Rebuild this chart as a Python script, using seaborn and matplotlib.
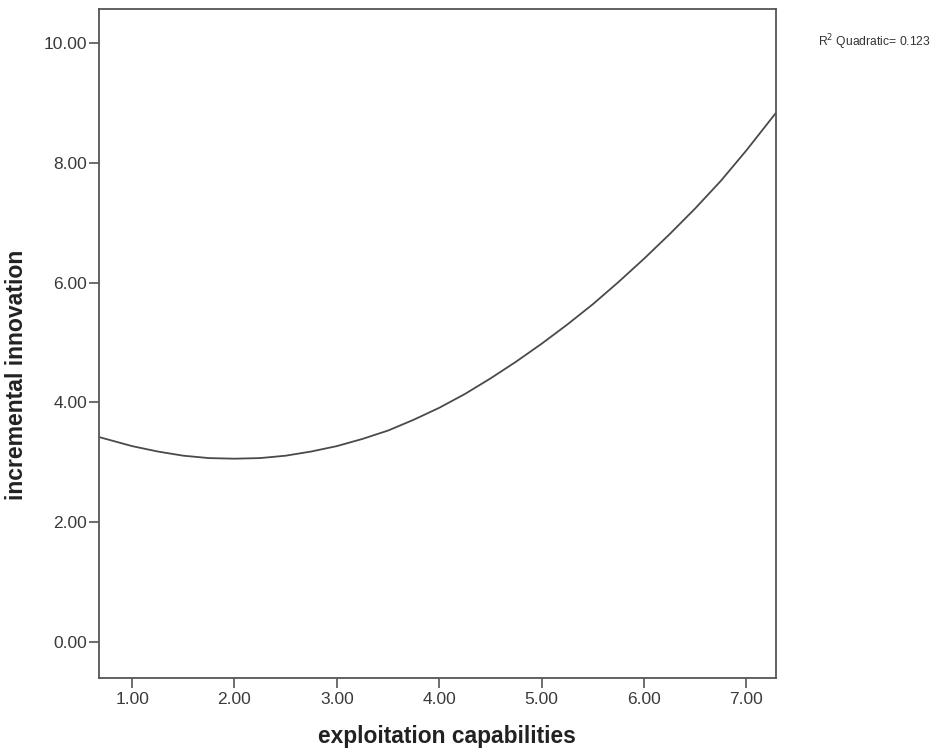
import matplotlib
matplotlib.use("Agg")
import matplotlib.pyplot as plt
import pandas as pd
import seaborn as sns

# Fitted quadratic curve.
exploitation = [0.68, 1.00, 1.25, 1.50, 1.75, 2.00, 2.25, 2.50, 2.75, 3.00,
                3.25, 3.50, 3.75, 4.00, 4.25, 4.50, 4.75, 5.00, 5.25, 5.50,
                5.75, 6.00, 6.25, 6.50, 6.75, 7.00, 7.29]
incremental = [3.42, 3.27, 3.18, 3.11, 3.07, 3.06, 3.07, 3.11, 3.18, 3.27,
               3.39, 3.53, 3.71, 3.91, 4.14, 4.40, 4.68, 4.98, 5.30, 5.64,
               6.01, 6.40, 6.81, 7.24, 7.70, 8.21, 8.84]
x_ticks = [1, 2, 3, 4, 5, 6, 7]
y_ticks = [0, 2, 4, 6, 8, 10]
r2_label = "R$^2$ Quadratic= 0.123"

sns.set_style("ticks")
plt.rcParams["font.family"] = ["Liberation Sans", "DejaVu Sans"]

data = pd.DataFrame({"x": exploitation, "y": incremental})

fig = plt.figure(figsize=(9.34, 7.49), dpi=100)
ax = fig.add_axes([0.106, 0.095, 0.725, 0.893])

sns.lineplot(data=data, x="x", y="y", color="#4a4a4a", linewidth=1.3, ax=ax)

ax.set_xlim(0.677, 7.29)
ax.set_ylim(-0.6, 10.57)
ax.set_xticks(x_ticks)
ax.set_yticks(y_ticks)
ax.set_xticklabels(["{:.2f}".format(t) for t in x_ticks])
ax.set_yticklabels(["{:.2f}".format(t) for t in y_ticks])
ax.tick_params(length=7.5, width=1.2, color="#555555", labelsize=12.5,
               labelcolor="#3a3a3a")
ax.tick_params(axis="y", pad=1)
ax.tick_params(axis="x", pad=3)
for spine in ax.spines.values():
    spine.set_visible(True)
    spine.set_color("#555555")
    spine.set_linewidth(1.3)

ax.set_xlabel("exploitation capabilities", fontsize=16.4, fontweight="bold",
              color="#222222", va="top")
ax.set_ylabel("incremental innovation", fontsize=16.6, fontweight="bold",
              color="#222222")
ax.xaxis.set_label_coords(0.513, -0.07)
ax.yaxis.set_label_coords(-0.105, 0.453)

fig.text(0.876, 0.943, r2_label, fontsize=8.7, color="#333333", va="center")

fig.savefig("out.png", dpi=100)
